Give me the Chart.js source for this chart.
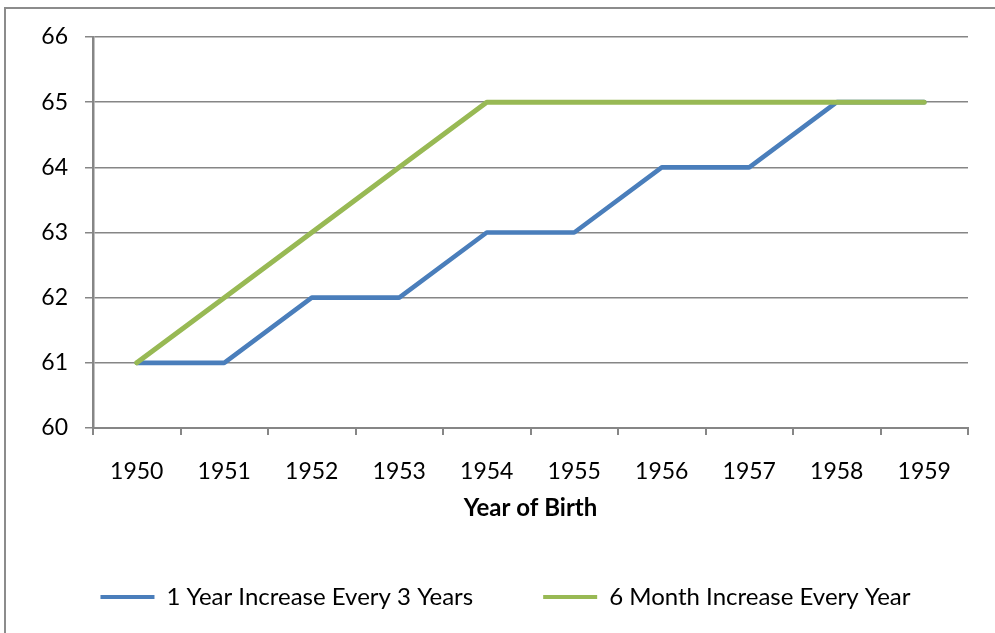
<!DOCTYPE html>
<html>
<head>
<meta charset="utf-8">
<title>Retirement Age by Year of Birth</title>
<script src="https://cdn.jsdelivr.net/npm/chart.js@4/dist/chart.umd.min.js"></script>
<style>
  html, body { margin: 0; padding: 0; background: #fff; overflow: hidden; }
  #frame {
    position: absolute; left: 4px; top: 7px;
    width: 1010px; height: 650px;
    border: 2px solid #8c8c8c; box-sizing: border-box;
  }
  #wrap { position: absolute; left: 0; top: 0; width: 995px; height: 633px; }
</style>
</head>
<body>
<div id="frame"></div>
<div id="wrap"><canvas id="chart" width="995" height="633"></canvas></div>
<script>
// Full retirement age by birth year under two phase-in schedules
const years = ['1950', '1951', '1952', '1953', '1954', '1955', '1956', '1957', '1958', '1959'];
const everyThreeYears = [61, 61, 62, 62, 63, 63, 64, 64, 65, 65];
const sixMonthsEveryYear = [61, 62, 63, 64, 65, 65, 65, 65, 65, 65];
const seriesNames = ['1 Year Increase Every 3 Years', '6 Month Increase Every Year'];
const seriesColors = ['#4a7ebb', '#98b954'];

const FONT = 'Lato, "Liberation Sans", sans-serif';
const AXIS_GRAY = '#868686';

new Chart(document.getElementById('chart'), {
  type: 'line',
  data: {
    labels: years,
    datasets: [
      {
        label: seriesNames[0],
        data: everyThreeYears,
        borderColor: seriesColors[0],
        backgroundColor: seriesColors[0],
        borderWidth: 4.6,
        pointRadius: 0,
        borderCapStyle: 'round',
        borderJoinStyle: 'round',
        tension: 0,
        order: 2
      },
      {
        label: seriesNames[1],
        data: sixMonthsEveryYear,
        borderColor: seriesColors[1],
        backgroundColor: seriesColors[1],
        borderWidth: 5,
        pointRadius: 0,
        borderCapStyle: 'round',
        borderJoinStyle: 'round',
        tension: 0,
        order: 1
      }
    ]
  },
  options: {
    responsive: false,
    animation: false,
    layout: { padding: { left: 16, right: 0, top: 37, bottom: 14 } },
    plugins: {
      tooltip: { enabled: false },
      legend: {
        position: 'bottom',
        labels: {
          boxWidth: 54,
          boxHeight: 4,
          padding: 70,
          color: '#000',
          font: { family: FONT, size: 24 },
          generateLabels: () => seriesNames.map((name, i) => ({
            text: name,
            fillStyle: seriesColors[i],
            strokeStyle: seriesColors[i],
            lineWidth: 0,
            hidden: false,
            datasetIndex: i
          }))
        }
      }
    },
    scales: {
      x: {
        type: 'category',
        offset: true,
        afterFit: (s) => { s.height = 87; },
        grid: {
          offset: true,
          drawOnChartArea: false,
          drawTicks: true,
          tickLength: 7,
          color: AXIS_GRAY,
          lineWidth: 2
        },
        border: { display: true, color: AXIS_GRAY, width: 2 },
        ticks: {
          color: '#000',
          padding: 23,
          maxRotation: 0,
          autoSkip: false,
          font: { family: FONT, size: 23 }
        },
        title: {
          display: true,
          text: 'Year of Birth',
          color: '#000',
          padding: { top: 0, bottom: -5 },
          font: { family: FONT, size: 24, weight: 'bold', lineHeight: 1 }
        }
      },
      y: {
        min: 60,
        max: 66,
        afterFit: (s) => { s.width = 77; },
        grid: {
          color: AXIS_GRAY,
          lineWidth: 1.5,
          drawTicks: true,
          tickLength: 8
        },
        border: { display: true, color: AXIS_GRAY, width: 2.5 },
        ticks: {
          stepSize: 1,
          color: '#000',
          padding: 17,
          font: { family: FONT, size: 23 }
        }
      },
      yRight: {
        position: 'right',
        display: true,
        afterFit: (s) => { s.width = 27; },
        grid: { display: false },
        border: { display: false },
        ticks: { display: false }
      }
    }
  }
});
</script>
</body>
</html>
